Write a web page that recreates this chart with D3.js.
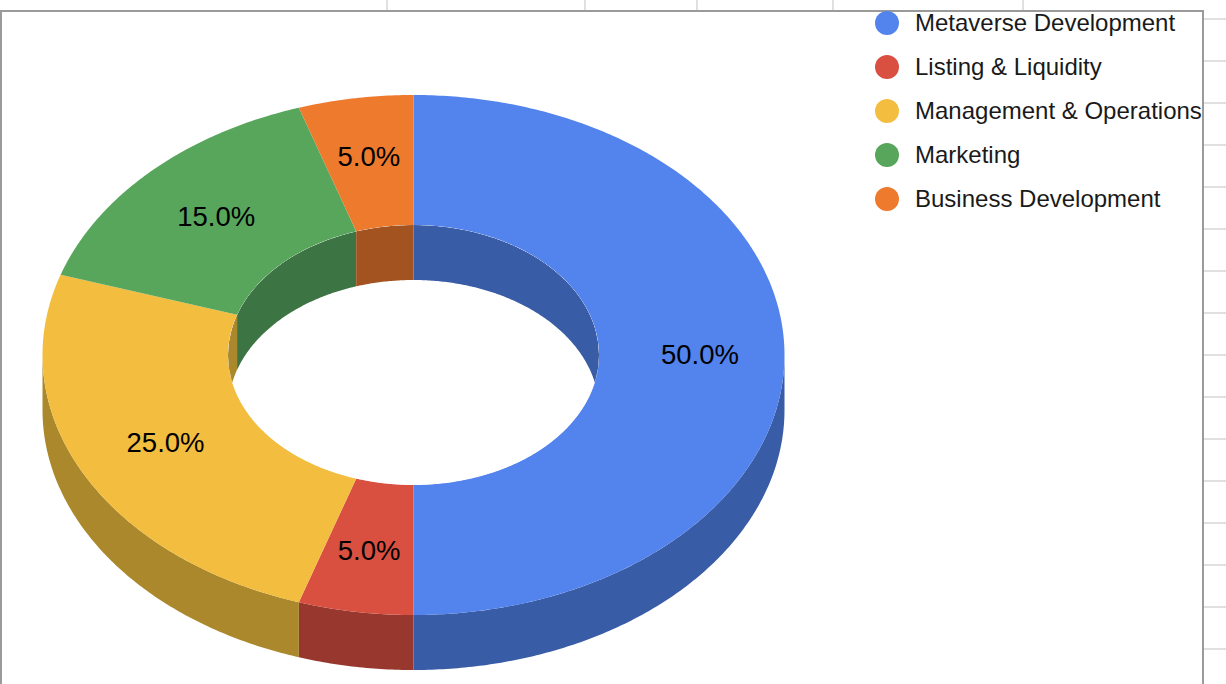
<!DOCTYPE html>
<html>
<head>
<meta charset="utf-8">
<script src="https://cdn.jsdelivr.net/npm/d3@7"></script>
<style>
    body { margin: 0; background: #fff; }
    svg { display: block; }
    text { font-family: "Liberation Sans", Arial, sans-serif; }
</style>
</head>
<body>
<script>
// ! DATA ! //
const categories = ["Metaverse Development", "Listing & Liquidity", "Management & Operations", "Marketing", "Business Development"];
const shares = [50, 5, 25, 15, 5];
const labels = ["50.0%", "5.0%", "25.0%", "15.0%", "5.0%"];
const topColors = ["#5383ec", "#d95040", "#f3bd40", "#58a65c", "#ee7a2e"];
const wallColors = ["#385ca6", "#98372d", "#aa882b", "#3d7443", "#a3531f"];
// ^ spreadsheet cell lines behind the chart ^ //
const sheetColumns = [387, 585, 697, 833, 1023];
const sheetRows = [19, 61, 103, 145, 187, 229, 271, 313, 355, 397, 439, 481, 523, 565, 607, 649];

// ! LAYOUT ! //
const width = 1226, height = 684;
const center = { x: 413.5, y: 355 };
const radius = { x: 371, y: 260 };
const holeRatio = 0.5;
const depth = 55;
const labelRatios = [0.772, 0.765, 0.75, 0.752, 0.77];

const svg = d3.select("body").append("svg").attr("width", width).attr("height", height);

// ^ SHEET GRID ^ //
svg.selectAll(".col").data(sheetColumns).enter().append("line")
    .attr("x1", d => d).attr("x2", d => d).attr("y1", 0).attr("y2", 12)
    .attr("stroke", "#e0e0e0").attr("stroke-width", 2);
svg.selectAll(".row").data(sheetRows).enter().append("line")
    .attr("x1", 1204).attr("x2", width).attr("y1", d => d).attr("y2", d => d)
    .attr("stroke", "#e0e0e0").attr("stroke-width", 2);

// ^ CHART FRAME ^ //
svg.append("rect").attr("x", 1).attr("y", 11).attr("width", 1202).attr("height", height + 20)
    .attr("fill", "#fff").attr("stroke", "#9a9a9a").attr("stroke-width", 2);

// ! PIE ! //
const pie = d3.pie().sort(null).value(d => d);
const slices = pie(shares).map((s, i) => ({ ...s, index: i }));

const xScale = d3.scaleLinear().domain([-1, 1]).range([center.x - radius.x, center.x + radius.x]);
const yScale = d3.scaleLinear().domain([-1, 1]).range([center.y - radius.y, center.y + radius.y]);

// angle runs clockwise from 12 o'clock, same as d3.pie
const pointAt = (angle, ratio, drop = 0) => [xScale(Math.sin(angle) * ratio), yScale(-Math.cos(angle) * ratio) + drop];
const anglesBetween = (a0, a1) => {
    const n = Math.max(2, Math.ceil((a1 - a0) / 0.01));
    return d3.range(n + 1).map(i => a0 + ((a1 - a0) * i) / n);
};
const line = d3.line();

const wallPath = (a0, a1, ratio) => {
    const angles = anglesBetween(a0, a1);
    const top = angles.map(a => pointAt(a, ratio));
    const bottom = angles.map(a => pointAt(a, ratio, depth)).reverse();
    return line(top.concat(bottom)) + "Z";
};

const ringPath = (s) => {
    const angles = anglesBetween(s.startAngle, s.endAngle);
    const outer = angles.map(a => pointAt(a, 1));
    const inner = angles.map(a => pointAt(a, holeRatio)).reverse();
    return line(outer.concat(inner)) + "Z";
};

const tau = Math.PI * 2;
// only the part of each slice between two angles gets a wall
const clipSlice = (s, from, to) => {
    const a0 = Math.max(s.startAngle, from), a1 = Math.min(s.endAngle, to);
    return a1 > a0 ? [a0, a1] : null;
};

// ^ OUTER WALL (front half) ^ //
const outerWall = svg.append("g").attr("class", "outer_wall");
slices.forEach((s) => {
    const part = clipSlice(s, tau / 4, (tau * 3) / 4);
    if (part) outerWall.append("path").attr("d", wallPath(part[0], part[1], 1)).attr("fill", wallColors[s.index]);
});

// ^ TOP FACE ^ //
svg.append("g").attr("class", "top_face").selectAll("path").data(slices).enter().append("path")
    .attr("d", ringPath).attr("fill", d => topColors[d.index]);

// ^ HOLE: back half of the inner wall, clipped by the hole's rim ^ //
svg.append("clipPath").attr("id", "hole_clip").append("ellipse")
    .attr("cx", center.x).attr("cy", center.y)
    .attr("rx", radius.x * holeRatio).attr("ry", radius.y * holeRatio);
const innerWall = svg.append("g").attr("class", "inner_wall").attr("clip-path", "url(#hole_clip)");
innerWall.append("ellipse").attr("cx", center.x).attr("cy", center.y)
    .attr("rx", radius.x * holeRatio).attr("ry", radius.y * holeRatio).attr("fill", "#fff");
slices.forEach((s) => {
    [[0, tau / 4], [(tau * 3) / 4, tau]].forEach(([from, to]) => {
        const part = clipSlice(s, from, to);
        if (part) innerWall.append("path").attr("d", wallPath(part[0], part[1], holeRatio)).attr("fill", wallColors[s.index]);
    });
});

// ^ SLICE LABELS ^ //
svg.append("g").attr("class", "slice_labels").selectAll("text").data(slices).enter().append("text")
    .attr("x", d => pointAt((d.startAngle + d.endAngle) / 2, labelRatios[d.index])[0])
    .attr("y", d => pointAt((d.startAngle + d.endAngle) / 2, labelRatios[d.index])[1])
    .attr("dy", "0.32em")
    .attr("text-anchor", "middle")
    .attr("font-size", 27.5)
    .attr("fill", "#000")
    .text(d => labels[d.index]);

// ! LEGEND ! //
const legendY = d3.scalePoint().domain(categories).range([23, 199]);
const legend = svg.append("g").attr("class", "legend").selectAll("g").data(categories).enter().append("g")
    .attr("transform", d => `translate(887,${legendY(d)})`);
legend.append("circle").attr("r", 12).attr("fill", (d, i) => topColors[i]);
legend.append("text").attr("x", 28).attr("dy", "0.35em").attr("font-size", 24).attr("fill", "#1a1a1a").text(d => d);
</script>
</body>
</html>
